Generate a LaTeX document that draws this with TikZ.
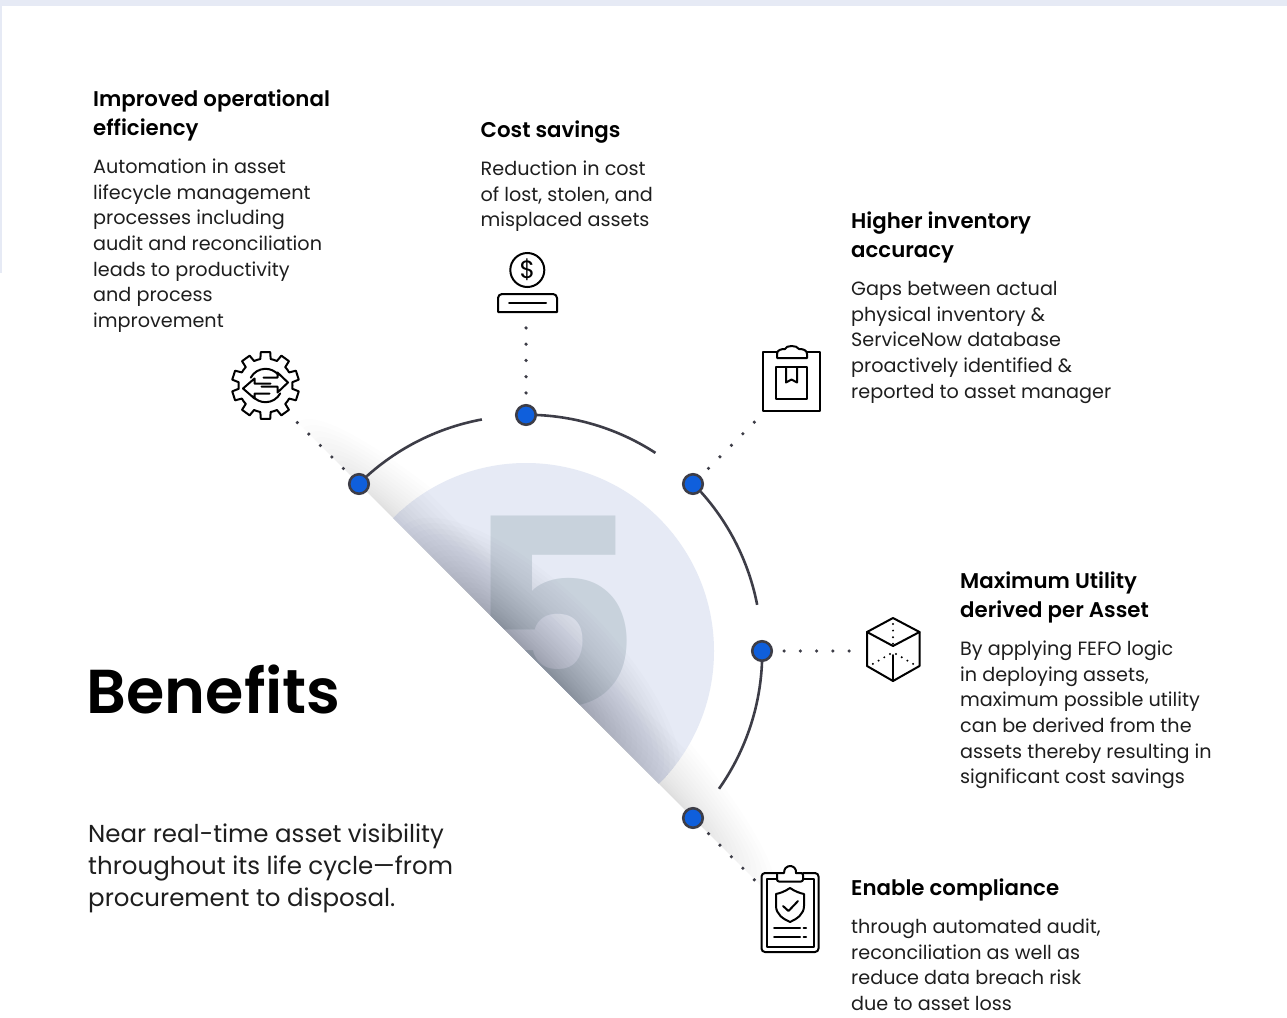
\documentclass[tikz,border=0pt]{standalone}
\usepackage{fontspec}
\setmainfont{Poppins}[BoldFont={Poppins SemiBold}]
\newfontfamily\fivefont{Poppins Bold}
\definecolor{inkc}{HTML}{1E1E1E}
\definecolor{linec}{HTML}{3D3D47}
\definecolor{bluec}{HTML}{0F5FDC}
\definecolor{discc}{HTML}{E6EAF5}
\definecolor{fivec}{HTML}{C8D2DC}
\definecolor{shadec}{HTML}{1E2338}
\newcommand\fl{\rule{0pt}{20pt}}
\tikzset{
 x=1pt,y=1pt,
 arcline/.style={draw=linec,line width=2.6pt},
 hub/.style={circle,fill=bluec,draw=linec,line width=2.6pt,minimum size=19.5pt,inner sep=0pt},
 dotline/.style={draw=linec,line width=3.6pt,line cap=round,dash pattern=on 0pt off 16.25pt,shorten <=11pt},
 icon/.style={draw=black,line width=2pt,line join=round,line cap=round},
 head/.style={anchor=north west,align=left,inner sep=0pt,font=\fontsize{21.3}{29}\selectfont\bfseries,text=black},
 body/.style={anchor=north west,align=left,inner sep=0pt,font=\fontsize{19.2}{25.6}\selectfont,text=inkc},
}
\begin{document}
\begin{tikzpicture}
\useasboundingbox (0,0) rectangle (1287,-1017);
\fill[white] (0,0) rectangle (1287,-1017);
\fill[discc] (0,0) rectangle (1287,-6);
\fill[discc] (0,0) rectangle (2,-273);
\coordinate (C) at (526,-651);
\begin{scope}
 \clip (C) ++(135:420) -- ++(-45:840) -- ++(45:420) -- ++(135:840) -- cycle;
 % soft band along the diagonal
 \begin{scope}[shift={(C)},rotate=-45]
  \foreach \i in {0,...,16}{
   \pgfmathsetmacro\AA{335-135*\i/17}
   \pgfmathsetmacro\BB{58*(1-\i/17)^1.3+1}
   \fill[black,opacity=0.0079] (12,0) ellipse[x radius=\AA,y radius=\BB];
  }
 \end{scope}
 % half disc with the numeral
 \fill[discc] (C) circle[radius=188];
 \node[anchor=base,inner sep=0pt,text=fivec,font=\fontsize{262}{262}\fivefont] (five) at (553,-707) {\scalebox{1.02}[1]{5}};
 \clip (C) circle[radius=188];
 \begin{scope}[shift={(C)},rotate=-45]
  \foreach \i in {0,...,9}{
   \pgfmathsetmacro\HH{42*(1-\i/10)^1.3+1}
   \fill[shadec,opacity=0.0118] (-230,0) rectangle (230,\HH);
  }
  \foreach \i in {0,...,21}{
   \pgfmathsetmacro\AA{190-150*\i/22}
   \pgfmathsetmacro\BB{72*(1-\i/22)^1.2+1}
   \fill[shadec,opacity=0.0118] (15,0) ellipse[x radius=\AA,y radius=\BB];
  }
 \end{scope}
\end{scope}
% ring
\node[hub] (n1) at (359,-484) {};
\node[hub] (n2) at (526,-415) {};
\node[hub] (n3) at (693,-484) {};
\node[hub] (n4) at (762,-651) {};
\node[hub] (n5) at (693,-818) {};
\draw[arcline] (n1.45) arc[start angle=132,end angle=100.5,radius=236.3];
\draw[arcline] (n2.east) arc[start angle=87.5,end angle=57,radius=236.3];
\draw[arcline] (n3.-45) arc[start angle=42,end angle=11,radius=236.3];
\draw[arcline] (n4.south) arc[start angle=-2.3,end angle=-35.2,radius=236.3];
% connector ends
\coordinate (e1) at (296.7,-422);
\coordinate (e2) at (526,-327.8);
\coordinate (e3) at (754.5,-422);
\coordinate (e4) at (849.3,-651);
\coordinate (e5) at (754.5,-880);
\draw[dotline] (n1) -- (e1);
\draw[dotline] (n2) -- (e2);
\draw[dotline] (n3) -- (e3);
\draw[dotline] (n4) -- (e4);
\draw[dotline] (n5) -- (e5);
% gear icon
\begin{scope}[shift={(265.5,-385.5)},icon]
 \draw (82:33.8)
  \foreach \a in {90,126,162,198,234,270,306,342,378,414}{
   -- ({\a-8}:33.8) -- ({\a+8}:33.8) -- ({\a+11}:27) arc[start angle=\a+11,end angle=\a+25,radius=27]
  } -- cycle;
 \draw (152:16.7) arc[start angle=152,end angle=40,radius=16.7];
 \draw (-28:16.7) arc[start angle=-28,end angle=-140,radius=16.7];
 % arrows
 \draw (-2,8) -- (12,8) -- (12,13) -- (22.5,3) -- (12,-7) -- (12,-1) -- (-4,-1);
 \draw (4,-8) -- (-11,-8) -- (-11,-13) -- (-22.5,-3) -- (-11,7) -- (-11,2) -- (5,2);
\end{scope}
% coin icon
\node[circle,draw=black,line width=2pt,minimum size=34pt,inner sep=0pt,font=\fontsize{25}{25}\selectfont] (coin) at (527.3,-270) {\$};
\draw[icon] (498,-312) -- (498,-298) arc[start angle=180,end angle=90,radius=4] -- (553,-294) arc[start angle=90,end angle=0,radius=4] -- (557,-312) -- cycle;
\draw[icon] (509,-303) -- (546,-303);
% inventory clipboard
\begin{scope}[icon]
 \draw (777,-352) -- (763,-352) -- (763,-411) -- (820,-411) -- (820,-352) -- (807,-352);
 \draw (777,-358) -- (807,-358) -- (807,-354) .. controls (807,-350) and (803,-349) .. (799,-349) .. controls (797,-345) and (786,-345) .. (785,-349) .. controls (781,-349) and (777,-350) .. (777,-354) -- cycle;
 \draw (776,-367) rectangle (807,-398.5);
 \draw (786,-367) -- (786,-382.5) -- (791.5,-379.5) -- (797,-382.5) -- (797,-367);
\end{scope}
% cube icon
\begin{scope}[icon]
 \draw (893,-618) -- (919.5,-632) -- (919.5,-666) -- (893,-681) -- (867,-666) -- (867,-632) -- cycle;
 \draw (867,-632) -- (893,-646) -- (919.5,-632);
 \draw (893,-655) -- (893,-681);
 \draw[line width=2.2pt,dash pattern=on 0pt off 6.6pt] (893,-624) -- (893,-644);
 \draw[line width=2.2pt,dash pattern=on 0pt off 6.6pt] (890,-654) -- (871,-665);
 \draw[line width=2.2pt,dash pattern=on 0pt off 6.6pt] (896,-654) -- (915,-665);
\end{scope}
% compliance clipboard
\begin{scope}[icon]
 \draw[rounded corners=3.5pt] (777,-873) -- (761.5,-873) -- (761.5,-952) -- (818.5,-952) -- (818.5,-873) -- (803,-873);
 \draw (777,-878.5) -- (767,-878.5) -- (767,-946.5) -- (813.5,-946.5) -- (813.5,-878.5) -- (803,-878.5);
 \draw[rounded corners=2pt] (777,-873) -- (777,-881.5) -- (803,-881.5) -- (803,-873) -- (796,-873);
 \draw (796,-873) arc[start angle=-10,end angle=190,radius=6] -- (777,-873);
 \draw (790,-888) .. controls (796,-892) and (800,-893) .. (804,-894) -- (804,-906) .. controls (804,-914) and (797,-919) .. (790,-922) .. controls (783,-919) and (776,-914) .. (776,-906) -- (776,-894) .. controls (780,-893) and (784,-892) .. (790,-888) -- cycle;
 \draw (783,-906) -- (788.5,-911) -- (798,-901);
 \draw (774,-928) -- (800,-928);
 \draw (803.5,-928) -- (806,-928);
 \draw (774,-937) -- (800,-937);
 \draw (803.5,-937) -- (806,-937);
\end{scope}
% texts
\node[head] (t1) at (93,-86) {\fl Improved operational\\efficiency};
\node[body] (b1) at (93,-153.5) {\fl Automation in asset\\lifecycle management\\processes including\\audit and reconciliation\\leads to productivity\\and process\\improvement};
\node[head] (t2) at (480.5,-117) {\fl Cost savings};
\node[body] (b2) at (480.5,-155.5) {\fl Reduction in cost\\of lost, stolen, and\\misplaced assets};
\node[head] (t3) at (851,-208) {\fl Higher inventory\\accuracy};
\node[body] (b3) at (851,-275.5) {\fl Gaps between actual\\physical inventory \&\\ServiceNow database\\proactively identified \&\\reported to asset manager};
\node[head] (t4) at (960,-568) {\fl Maximum Utility\\derived per Asset};
\node[body] (b4) at (960,-635.5) {\fl By applying FEFO logic\\in deploying assets,\\maximum possible utility\\can be derived from the\\assets thereby resulting in\\significant cost savings};
\node[head] (t5) at (851,-875) {\fl Enable compliance};
\node[body] (b5) at (851,-913.5) {\fl through automated audit,\\reconciliation as well as\\reduce data breach risk\\due to asset loss};
\node[anchor=base west,inner sep=0pt,font=\fontsize{62}{62}\selectfont\bfseries,text=black] (title) at (86.5,-713) {Benefits};
\node[anchor=north west,align=left,inner sep=0pt,font=\fontsize{24.5}{32}\selectfont,text=inkc] (sub) at (88,-822) {\fl Near real-time asset visibility\\throughout its life cycle—from\\procurement to disposal.};
\end{tikzpicture}
\end{document}
